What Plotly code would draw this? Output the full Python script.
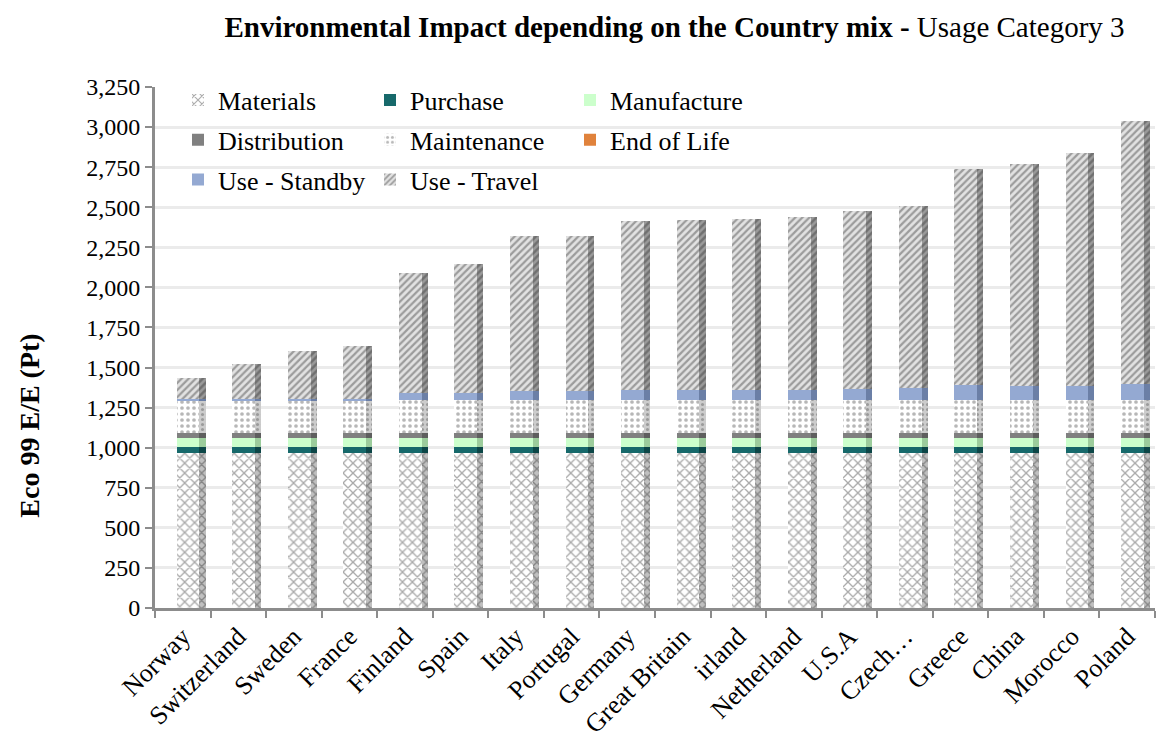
import plotly.graph_objects as go

countries = ["Norway", "Switzerland", "Sweden", "France", "Finland", "Spain", "Italy",
             "Portugal", "Germany", "Great Britain", "irland", "Netherland", "U.S.A",
             "Czech…", "Greece", "China", "Morocco", "Poland"]

materials    = [965] * 18
purchase     = [38] * 18
manufacture  = [55] * 18
distribution = [32] * 18
maintenance  = [205] * 18
end_of_life  = [0] * 18
use_standby  = [8, 8, 9, 10, 45, 48, 58, 58, 62, 64, 66, 68, 70, 75, 95, 90, 90, 100]
use_travel   = [134, 219, 298, 327, 747, 804, 969, 969, 1060, 1063, 1066, 1079, 1112,
                1137, 1347, 1387, 1452, 1642]

y_ticks = list(range(0, 3251, 250))

SERIF = "Liberation Serif, Times New Roman, serif"

series = [
    ("Materials", materials,
     dict(color="white", pattern=dict(shape="x", fgcolor="#555555", bgcolor="white", size=7, solidity=0.35)),
     dict(color="#c0c0c0", pattern=dict(shape="x", fgcolor="#4a4a4a", bgcolor="#c0c0c0", size=6, solidity=0.4)),
     "legend"),
    ("Purchase", purchase, dict(color="#17696b"), dict(color="#0c4647"), "legend2"),
    ("Manufacture", manufacture, dict(color="#ccffcc"), dict(color="#9ccc9c"), "legend3"),
    ("Distribution", distribution, dict(color="#808080"), dict(color="#5e5e5e"), "legend"),
    ("Maintenance", maintenance,
     dict(color="white", pattern=dict(shape=".", fgcolor="#707070", bgcolor="white", size=6, solidity=0.3)),
     dict(color="#cccccc", pattern=dict(shape=".", fgcolor="#6a6a6a", bgcolor="#cccccc", size=5, solidity=0.3)),
     "legend2"),
    ("End of Life", end_of_life, dict(color="#e0823c"), dict(color="#b0622a"), "legend3"),
    ("Use - Standby", use_standby, dict(color="#94a9d2"), dict(color="#6b7fa6"), "legend"),
    ("Use - Travel", use_travel,
     dict(color="#dedede", pattern=dict(shape="/", fgcolor="#555555", bgcolor="#e2e2e2", size=5, solidity=0.45)),
     dict(color="#9a9a9a", pattern=dict(shape="/", fgcolor="#454545", bgcolor="#9a9a9a", size=5, solidity=0.5)),
     "legend2"),
]

fig = go.Figure()
for name, vals, front, side, leg in series:
    fig.add_trace(go.Bar(
        x=countries, y=vals, name=name, marker=dict(line=dict(width=0), **front),
        offset=-0.11, width=0.41, legend=leg, legendgroup=name,
        xaxis="x", yaxis="y", hoverinfo="name+y"))
for name, vals, front, side, leg in series:
    fig.add_trace(go.Bar(
        x=countries, y=vals, name=name, marker=dict(line=dict(width=0), **side),
        offset=0.30, width=0.11, showlegend=False, legendgroup=name,
        xaxis="x", yaxis="y2", hoverinfo="skip"))

legend_common = dict(
    orientation="v", traceorder="grouped", tracegroupgap=3,
    font=dict(family=SERIF, size=26, color="black"),
    bgcolor="rgba(0,0,0,0)", yanchor="top", y=1.02, xanchor="left",
    itemwidth=30,
)

fig.update_layout(
    width=1163, height=738,
    margin=dict(l=155, r=8, t=87, b=130, autoexpand=False),
    paper_bgcolor="white", plot_bgcolor="white",
    barmode="stack", bargap=0,
    showlegend=True,
    title=dict(
        text="<b>Environmental Impact depending on the Country mix - </b>Usage Category 3",
        x=0.58, xanchor="center", y=0.963, yanchor="middle",
        font=dict(family=SERIF, size=29, color="black")),
    xaxis=dict(
        type="category", range=[-0.5, 17.5], automargin=False,
        showline=True, linecolor="#8c8c8c", linewidth=3,
        ticks="outside", tickson="boundaries", ticklen=7, tickcolor="#8c8c8c", tickwidth=2,
        tickangle=-45, tickfont=dict(family=SERIF, size=26, color="black"),
        showgrid=False),
    yaxis=dict(
        range=[0, 3250], tickvals=y_ticks, tickformat=",", automargin=False,
        showline=True, linecolor="#8c8c8c", linewidth=3,
        ticks="outside", ticklen=7, tickcolor="#8c8c8c", tickwidth=2,
        tickfont=dict(family=SERIF, size=24, color="black"),
        showgrid=True, gridcolor="#ebebeb", gridwidth=3, zeroline=False),
    yaxis2=dict(overlaying="y", matches="y", visible=False, range=[0, 3250]),
    legend=dict(x=0.023, **legend_common),
    legend2=dict(x=0.215, **legend_common),
    legend3=dict(x=0.415, **legend_common),
    annotations=[dict(
        text="<b>Eco 99 E/E (Pt)</b>", textangle=-90,
        xref="paper", yref="paper", x=-0.125, y=0.35, xanchor="center", yanchor="middle",
        showarrow=False, font=dict(family=SERIF, size=28, color="black"))],
)

fig.write_html("out.html")
